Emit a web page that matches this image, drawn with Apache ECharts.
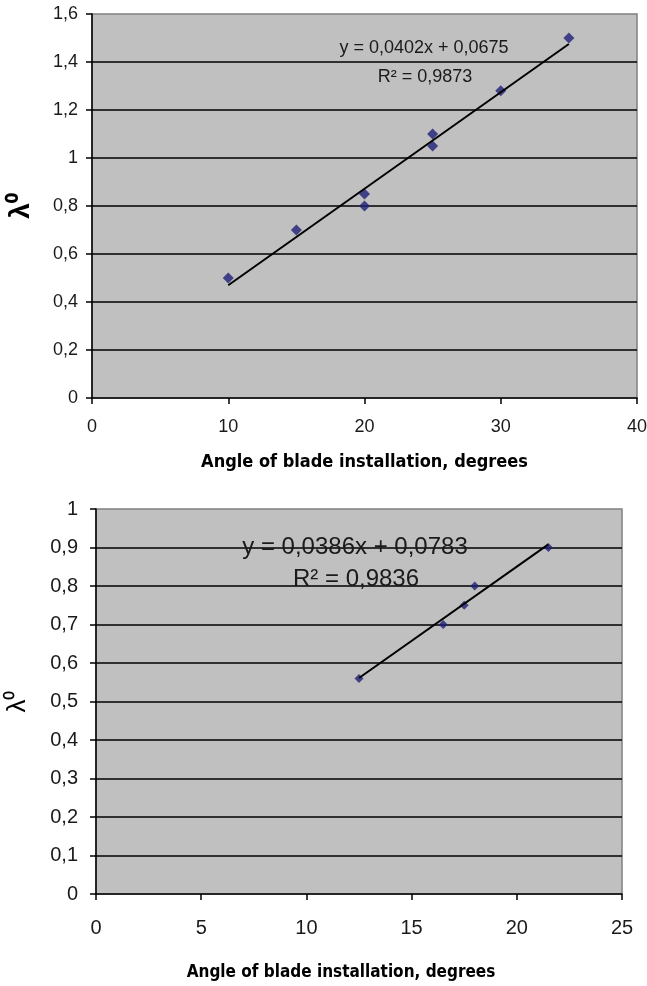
<!DOCTYPE html>
<html>
<head>
<meta charset="utf-8">
<script src="https://cdn.jsdelivr.net/npm/echarts@6/dist/echarts.min.js"></script>
<style>
html, body { margin: 0; padding: 0; background: #fff; }
#main { width: 647px; height: 986px; }
</style>
</head>
<body>
<div id="main"></div>
<script>
// 데이터 - 위 차트
var topAngles = [10, 15, 20, 20, 25, 25, 30, 35];
var topLambda = [0.5, 0.7, 0.85, 0.8, 1.1, 1.05, 1.28, 1.5];
var topTrendX = [10, 35];
var topTrendY = [0.47, 1.475];
var topEquation = 'y = 0,0402x + 0,0675';
var topR2 = 'R² = 0,9873';

// 데이터 - 아래 차트
var botAngles = [12.5, 16.5, 17.5, 18, 21.5];
var botLambda = [0.56, 0.7, 0.75, 0.8, 0.9];
var botTrendX = [12.5, 21.5];
var botTrendY = [0.561, 0.908];
var botEquation = 'y = 0,0386x + 0,0783';
var botR2 = 'R² = 0,9836';

// 축 범위 [min, max, interval]
var topXRange = [0, 40, 10];
var topYRange = [0, 1.6, 0.2];
var botXRange = [0, 25, 5];
var botYRange = [0, 1, 0.1];

var xTitle = 'Angle of blade installation, degrees';
var yTitle = 'λ⁰';

var FONT = "'Liberation Sans', Arial, sans-serif";
var TITLE_FONT = "'DejaVu Sans Condensed', 'Liberation Sans', sans-serif";

function pairs(xs, ys) {
	var out = [];
	for (var i = 0; i < xs.length; i++) out.push([xs[i], ys[i]]);
	return out;
}

// 소수점 -> 콤마
function commaLabel(v) {
	return String(+v.toFixed(2)).replace('.', ',');
}

function xAxisOf(idx, range, fontSize, labelMargin, nameSize, nameGap, namePad) {
	return {
		type: 'value', gridIndex: idx,
		min: range[0], max: range[1], interval: range[2],
		name: xTitle, nameLocation: 'middle', nameGap: nameGap,
		nameTextStyle: { fontFamily: TITLE_FONT, fontWeight: 'bold', fontSize: nameSize, color: '#000', padding: namePad },
		axisLine: { show: true, onZero: false, lineStyle: { color: '#000', width: 1.5 } },
		axisTick: { show: true, inside: false, length: 6, lineStyle: { color: '#000', width: 1.5 } },
		axisLabel: { fontFamily: FONT, fontSize: fontSize, color: '#1a1a1a', margin: labelMargin, formatter: commaLabel },
		splitLine: { show: false }
	};
}

function yAxisOf(idx, range, fontSize, labelMargin, nameSize, nameWeight, nameGap) {
	return {
		type: 'value', gridIndex: idx,
		min: range[0], max: range[1], interval: range[2],
		name: yTitle, nameLocation: 'middle', nameGap: nameGap, nameRotate: 90,
		nameTextStyle: { fontFamily: FONT, fontWeight: nameWeight, fontSize: nameSize, color: '#000' },
		axisLine: { show: true, onZero: false, lineStyle: { color: '#000', width: 1.5 } },
		axisTick: { show: true, inside: false, length: 6, lineStyle: { color: '#000', width: 1.5 } },
		axisLabel: { fontFamily: FONT, fontSize: fontSize, color: '#1a1a1a', margin: labelMargin, formatter: commaLabel },
		splitLine: { show: true, showMinLine: false, showMaxLine: false, lineStyle: { color: '#000', width: 1.5 } }
	};
}

function eqText(x, y, txt, size) {
	return {
		type: 'text', x: x, y: y, z: 100,
		style: { text: txt, fontFamily: FONT, fontSize: size, fill: '#1a1a1a', align: 'center', verticalAlign: 'middle' }
	};
}

var chart = echarts.init(document.getElementById('main'));
var option = {
	animation: false,
	backgroundColor: '#fff',
	grid: [
		{ left: 92, top: 14, width: 545, height: 384, outerBoundsMode: 'none', show: true, backgroundColor: '#c0c0c0', borderColor: '#808080', borderWidth: 1.5 },
		{ left: 96, top: 509, width: 526, height: 385, outerBoundsMode: 'none', show: true, backgroundColor: '#c0c0c0', borderColor: '#808080', borderWidth: 1.5 }
	],
	xAxis: [
		xAxisOf(0, topXRange, 18, 20, 18, 55, 0),
		xAxisOf(1, botXRange, 20, 24, 17, 70, [0, 36, 0, 0])
	],
	yAxis: [
		yAxisOf(0, topYRange, 18, 14, 28, 'bold', 57),
		yAxisOf(1, botYRange, 20, 18, 26, 'normal', 65)
	],
	graphic: [
		eqText(424, 48, topEquation, 18),
		eqText(425, 77, topR2, 18),
		eqText(355, 547, botEquation, 24),
		eqText(356, 579, botR2, 24)
	],
	series: [
		{
			type: 'line', xAxisIndex: 0, yAxisIndex: 0,
			data: pairs(topTrendX, topTrendY), symbol: 'none',
			lineStyle: { color: '#000', width: 2 }, z: 3
		},
		{
			type: 'scatter', xAxisIndex: 0, yAxisIndex: 0,
			data: pairs(topAngles, topLambda), symbol: 'diamond', symbolSize: 11,
			itemStyle: { color: '#1f1f78' }, z: 2
		},
		{
			type: 'line', xAxisIndex: 1, yAxisIndex: 1,
			data: pairs(botTrendX, botTrendY), symbol: 'none',
			lineStyle: { color: '#000', width: 2 }, z: 3
		},
		{
			type: 'scatter', xAxisIndex: 1, yAxisIndex: 1,
			data: pairs(botAngles, botLambda), symbol: 'diamond', symbolSize: 9,
			itemStyle: { color: '#1f1f78' }, z: 2
		}
	]
};
chart.setOption(option);
</script>
</body>
</html>
